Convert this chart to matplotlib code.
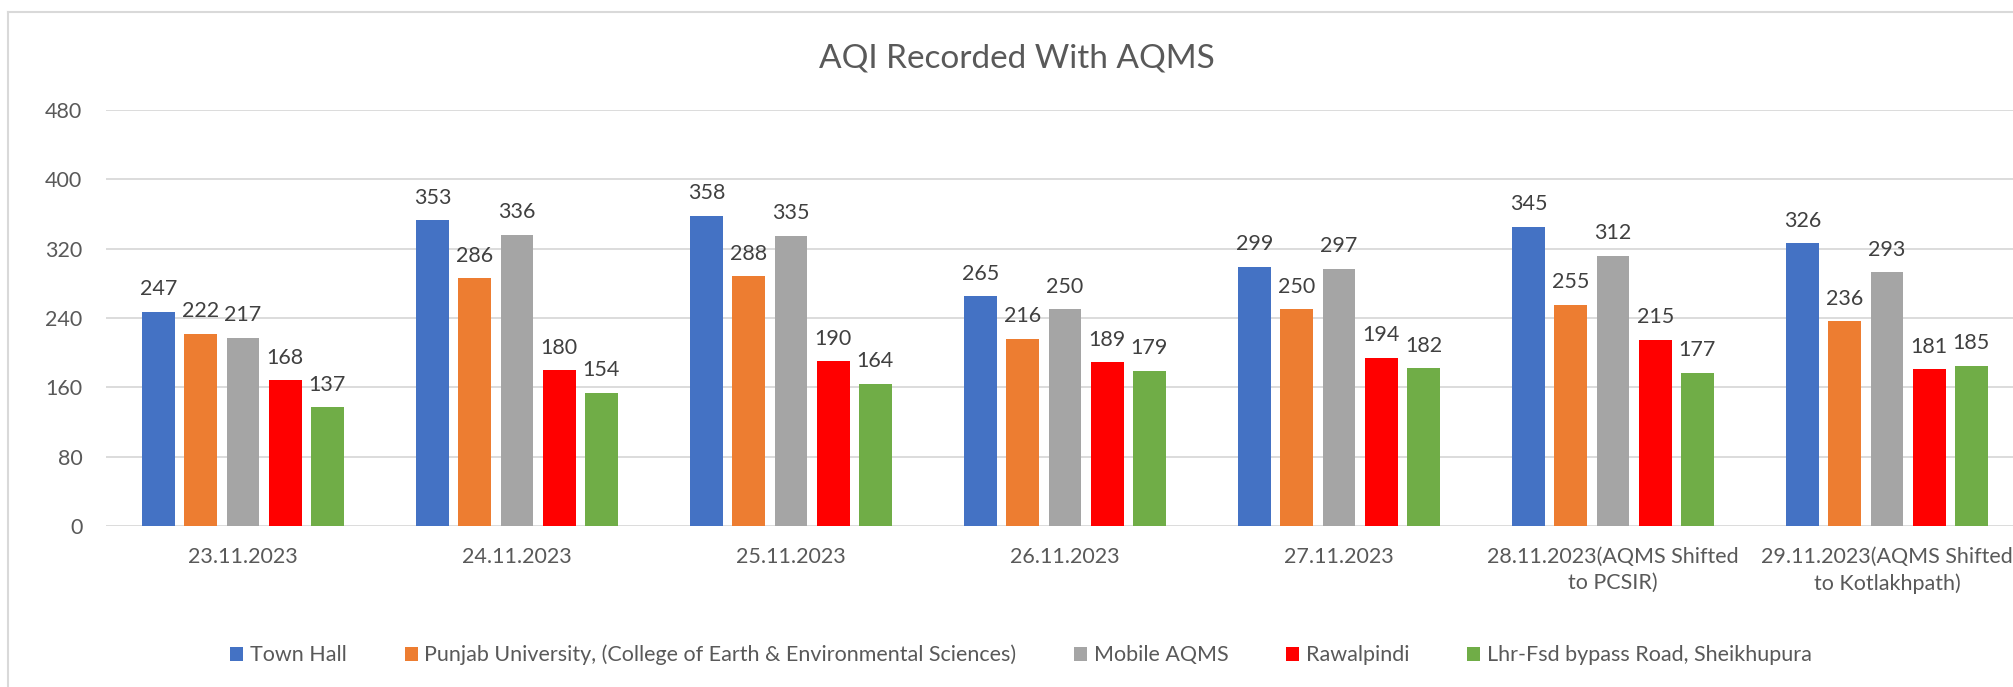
import numpy as np
import matplotlib
matplotlib.use("Agg")
import matplotlib.pyplot as plt
from matplotlib.patches import Patch
from matplotlib.lines import Line2D

plt.rcParams['font.family'] = ['Lato', 'DejaVu Sans']

dates = ["23.11.2023", "24.11.2023", "25.11.2023", "26.11.2023", "27.11.2023",
         "28.11.2023(AQMS Shifted\nto PCSIR)",
         "29.11.2023(AQMS Shifted\nto Kotlakhpath)"]
stations = ["Town Hall",
            "Punjab University, (College of Earth & Environmental Sciences)",
            "Mobile AQMS", "Rawalpindi", "Lhr-Fsd bypass Road, Sheikhupura"]
town_hall = [247, 353, 358, 265, 299, 345, 326]
punjab_uni = [222, 286, 288, 216, 250, 255, 236]
mobile_aqms = [217, 336, 335, 250, 297, 312, 293]
rawalpindi = [168, 180, 190, 189, 194, 215, 181]
sheikhupura = [137, 154, 164, 179, 182, 177, 185]
colors = ["#4472C4", "#ED7D31", "#A5A5A5", "#FF0000", "#70AD47"]

series = [town_hall, punjab_uni, mobile_aqms, rawalpindi, sheikhupura]

W, H = 2013, 687
fig = plt.figure(figsize=(W / 100, H / 100), dpi=100)
# plot area runs a bit past the right edge, like the cropped screenshot
ax = fig.add_axes([106 / W, 1 - 526 / H, 7 * 274 / W, 416 / H])

x = np.arange(len(dates))
bw = 0.12
step = 0.154
for i, vals in enumerate(series):
    bars = ax.bar(x + (i - 2) * step, vals, width=bw, color=colors[i], zorder=3)
    ax.bar_label(bars, padding=9, fontsize=15.5, color="#404040")

ax.set_xlim(-0.5, 6.5)
ax.set_ylim(0, 480)
ax.set_yticks(np.arange(0, 481, 80))
ax.set_xticks(x)
ax.set_xticklabels(dates, linespacing=1.4)
ax.tick_params(axis='y', length=0, pad=17, labelsize=15.5, labelcolor="#595959")
ax.tick_params(axis='x', length=0, pad=15, labelsize=15.5, labelcolor="#595959")
ax.grid(axis='y', color="#D9D9D9", linewidth=1.3, zorder=0)
ax.set_axisbelow(True)
for s in ax.spines.values():
    s.set_visible(False)

fig.text(1017 / W, 1 - 68 / H, "AQI Recorded With AQMS", ha='center', va='baseline',
         fontsize=24, color="#595959")

# chart area border (left and top visible)
fig.add_artist(Line2D([8 / W, 8 / W], [0, 1 - 12 / H], color="#D9D9D9", lw=1.5,
                      transform=fig.transFigure))
fig.add_artist(Line2D([8 / W, 1], [1 - 12 / H, 1 - 12 / H], color="#D9D9D9", lw=1.5,
                      transform=fig.transFigure))

handles = [Patch(facecolor=c, edgecolor='none') for c in colors]
leg = fig.legend(handles, stations, loc='center', bbox_to_anchor=(1021 / W, 1 - 655 / H),
                 bbox_transform=fig.transFigure, ncol=5, frameon=False, fontsize=15.5,
                 handlelength=0.6, handleheight=0.6, handletextpad=0.3, columnspacing=2.7)
for t in leg.get_texts():
    t.set_color("#595959")

fig.savefig("out.png", dpi=100)
